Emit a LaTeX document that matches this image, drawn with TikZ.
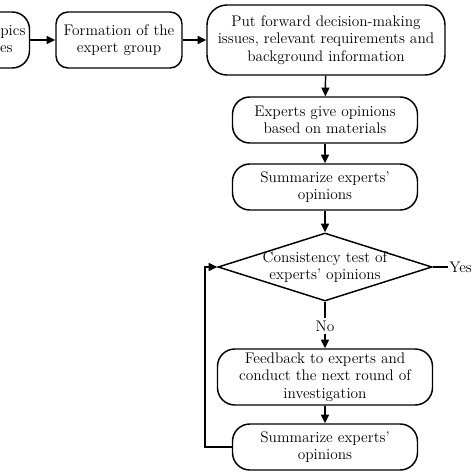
\documentclass[tikz,border=0pt]{standalone}
\usepackage{amsmath,amsfonts}
\usetikzlibrary{arrows.meta,shapes.geometric}

\tikzset{
  stepbox/.style={draw, line width=1.1pt, rounded corners=13pt, align=center, inner sep=0.75pt, font=\fontsize{11.5}{13}\selectfont},
  testbox/.style={draw, diamond, line width=1.1pt, align=center, inner sep=-2pt, minimum width=160.5pt, minimum height=51pt, font=\fontsize{11.5}{13}\selectfont},
  flow/.style={line width=1.1pt, -{Triangle[length=6.5pt,width=6pt]}},
  plain/.style={line width=1.1pt},
}

\begin{document}
\begin{tikzpicture}[x=0.75pt,y=0.75pt,yscale=-1,xscale=1]
\useasboundingbox (0,0) rectangle (474,474);
\clip (0,0) rectangle (474,474);

%Shape: Rounded Rectangles
\node (topic) [stepbox, minimum width=95.25pt, minimum height=42pt] at (-34,40) {Selection of topics\\and key issues};
\node (group) [stepbox, rounded corners=9pt, minimum width=94.5pt, minimum height=42pt] at (119,40) {Formation of the\\expert group};
\node (issue) [stepbox, rounded corners=15pt, minimum width=178.5pt, minimum height=52.5pt] at (326,40) {Put forward decision-making\\issues, relevant requirements and\\background information};
\node (opinion) [stepbox, minimum width=138.75pt, minimum height=34.5pt] at (325,120) {Experts give opinions\\based on materials};
\node (summary) [stepbox, minimum width=138.75pt, minimum height=34.5pt] at (325,187) {Summarize experts'\\opinions};
%Shape: Diamond
\node (test) [testbox, aspect=3.15] at (325,267) {Consistency test of\\experts' opinions};
\node (feedback) [stepbox, minimum width=161.25pt, minimum height=42pt] at (325,377) {Feedback to experts and\\conduct the next round of\\investigation};
\node (resummary) [stepbox, minimum width=138.75pt, minimum height=34.5pt] at (325,447) {Summarize experts'\\opinions};

% Text Node
\node (yes) [anchor=west, inner sep=0.75pt, font=\fontsize{11.5}{13}\selectfont] at (448,267) {Yes};
% Text Node
\node (no) [inner sep=1.5pt, font=\fontsize{11.5}{13}\selectfont] at (325,326) {No};

%Straight Lines
\draw [flow] (topic) -- (group);
\draw [flow] (group) -- (issue);
\draw [flow] (issue) -- (opinion);
\draw [flow] (opinion) -- (summary);
\draw [flow] (summary) -- (test);
\draw [plain] (test.east) -- (yes.west);
\draw [plain] (test.south) -- (no.north);
\draw [flow] (no.south) -- (feedback.north);
\draw [flow] (feedback) -- (resummary);
\coordinate (back) at (205,447);
\draw [flow] (resummary.west) -- (back) |- (test.west);

\end{tikzpicture}
\end{document}
